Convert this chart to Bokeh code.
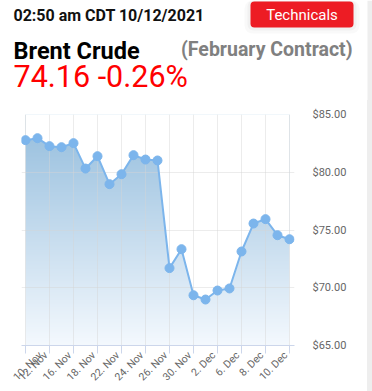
import math
import numpy as np
from bokeh.plotting import figure
from bokeh.layouts import column, row
from bokeh.models import (FixedTicker, NumeralTickFormatter, Label, BoxAnnotation, Range1d, Div)
from bokeh.embed import file_html
from bokeh.resources import INLINE

# ---- data ----
dates = ["10. Nov", "11. Nov", "12. Nov", "15. Nov", "16. Nov", "17. Nov", "18. Nov",
         "19. Nov", "22. Nov", "23. Nov", "24. Nov", "25. Nov", "26. Nov", "29. Nov",
         "30. Nov", "1. Dec", "2. Dec", "3. Dec", "6. Dec", "7. Dec", "8. Dec",
         "9. Dec", "10. Dec"]
prices = [82.78, 82.95, 82.26, 82.17, 82.52, 80.32, 81.39, 78.97, 79.83, 81.48,
          81.10, 81.02, 71.70, 73.34, 69.35, 68.98, 69.76, 69.94, 73.14, 75.56,
          75.94, 74.55, 74.20]
y_ticks = [65, 70, 75, 80, 85]
header_time = "02:50 am CDT 10/12/2021"
title = "Brent Crude"
subtitle = "(February Contract)"
quote = "74.16 -0.26%"
button_text = "Technicals"

idx = list(range(len(dates)))
x_tick_idx = idx[::2]

W, H = 372, 391
HEAD_H = 100
BAND_W = 5
LEFT_CLIP = 10
Y0, Y1 = 65, 85

# ---------------- header ----------------
hd = figure(width=W, height=HEAD_H, output_backend="svg", toolbar_location=None,
            x_range=Range1d(0, W), y_range=Range1d(0, HEAD_H),
            x_axis_location=None, y_axis_location=None, min_border=0)
hd.grid.visible = False
hd.outline_line_color = None
hd.background_fill_color = "white"
hd.border_fill_color = "white"

def hbox(l, r, top, bottom, color, alpha=1.0, **kw):
    hd.add_layout(BoxAnnotation(left=l, right=r, top=HEAD_H - top, bottom=HEAD_H - bottom,
                                left_units="screen", right_units="screen",
                                top_units="screen", bottom_units="screen",
                                fill_color=color, fill_alpha=alpha, line_color=None, **kw))

hbox(W - BAND_W, W, 0, HEAD_H, "#eeeeee")
hbox(244, 359, 0, 33, "#000000", 0.025, border_radius=8)   # soft shadow
hbox(247, 356, 0, 30, "#000000", 0.03, border_radius=6)
hbox(250, 353, 1, 27, "#ed1c24", border_radius=4)          # button

def lab(text, x, y, size, color, style="normal", align="left", baseline="alphabetic"):
    hd.add_layout(Label(x=x, y=HEAD_H - y, x_units="screen", y_units="screen", text=text,
                        text_font="Roboto", text_font_size=size, text_color=color,
                        text_font_style=style, text_align=align, text_baseline=baseline))

lab(header_time, 13, 15, "16px", "#111111", "bold")
lab(button_text, 301.5, 14, "15px", "white", align="center", baseline="middle")
lab(title, 13, 50, "23.5px", "#000000", "bold")
lab(subtitle, 352, 48.5, "19.5px", "#808080", "bold", align="right")
lab(quote, 13, 76, "30.5px", "#ff0000")

# ---------------- chart ----------------
CW = W - LEFT_CLIP - BAND_W      # 357
CH = H - HEAD_H                  # 291
FL, FR, FT, FB = 11, 284, 14, 245  # frame edges inside chart canvas
PX = 12.0                          # px per trading day

p = figure(width=CW, height=CH, output_backend="svg", toolbar_location=None,
           x_range=Range1d(-4 / PX, 22 + 5 / PX), y_range=Range1d(Y0, Y1),
           y_axis_location="right",
           min_border_left=FL, min_border_right=CW - FR,
           min_border_top=FT, min_border_bottom=CH - FB,
           margin=(0, 0, 0, LEFT_CLIP))
p.outline_line_color = None
p.background_fill_color = "white"
p.border_fill_color = "white"

# vertical gradient image for the area, masked above the line with white
rows = 240
top_rgb = np.array([148, 189, 221])
bot_rgb = np.array([244, 249, 254])
t = np.linspace(0, 1, rows)[:, None]  # row 0 = bottom
cols = (bot_rgb * (1 - t) + top_rgb * t).astype(np.uint32)
img = np.empty((rows, 1), dtype=np.uint32)
view = img.view(dtype=np.uint8).reshape((rows, 1, 4))
view[:, :, 0] = cols[:, 0:1]
view[:, :, 1] = cols[:, 1:2]
view[:, :, 2] = cols[:, 2:3]
view[:, :, 3] = 255
p.image_rgba(image=[img], x=idx[0], y=Y0, dw=idx[-1] - idx[0], dh=Y1 - Y0, level="image")
p.varea(x=idx, y1=prices, y2=Y1 + 1, fill_color="white", level="image")

p.line(idx, prices, line_color="#7cb5ec", line_width=2)
p.scatter(idx, prices, size=9, fill_color="#7cb5ec", line_color="#7cb5ec")

# grids
p.xgrid.ticker = FixedTicker(ticks=x_tick_idx)
p.ygrid.ticker = FixedTicker(ticks=y_ticks)
p.grid.grid_line_color = "#d4d4d4"
p.grid.grid_line_alpha = 0.45

# x axis: tick marks drawn as "minor" ticks at the dates, labels offset so that
# each rotated label ends at its tick
shift = 0.3125
lab_ticks = [i - shift for i in x_tick_idx]
xa = p.xaxis[0]
xa.ticker = FixedTicker(ticks=lab_ticks, minor_ticks=x_tick_idx)
xa.major_label_overrides = {i - shift: dates[i] for i in x_tick_idx}
xa.axis_line_color = "#ccd6eb"
xa.major_tick_line_color = None
xa.major_tick_out = 0
xa.major_tick_in = 0
xa.minor_tick_line_color = "#ccd6eb"
xa.minor_tick_out = 8
xa.minor_tick_in = 0
xa.major_label_orientation = math.pi / 4
xa.major_label_text_font = "Roboto"
xa.major_label_text_font_size = "10.5px"
xa.major_label_text_color = "#666666"
xa.major_label_standoff = 0

# y axis (right)
ya = p.yaxis[0]
ya.ticker = FixedTicker(ticks=y_ticks)
ya.formatter = NumeralTickFormatter(format="$0.00")
ya.axis_line_color = None
ya.major_tick_line_color = None
ya.minor_tick_line_color = None
ya.major_label_standoff = 12
ya.major_label_text_font = "Roboto"
ya.major_label_text_font_size = "11px"
ya.major_label_text_color = "#666666"

band = Div(text="", width=BAND_W, height=CH, margin=0,
           styles={"background-color": "#eeeeee"})

layout = column(hd, row(p, band, spacing=0), spacing=0)
open("out.html", "w").write(file_html(layout, INLINE))
